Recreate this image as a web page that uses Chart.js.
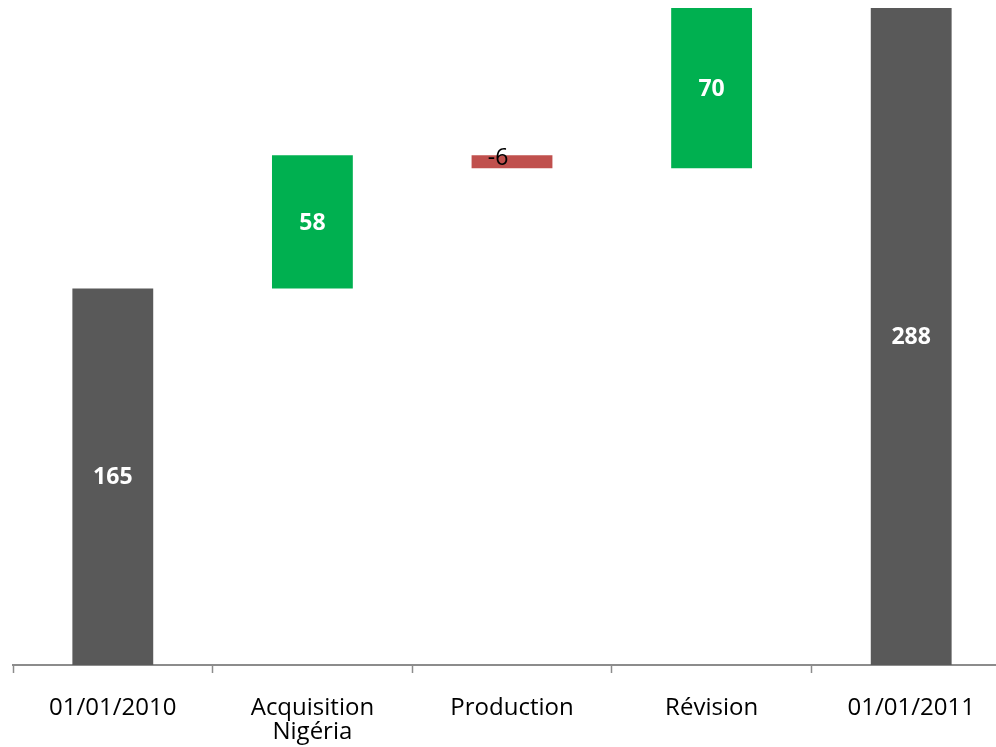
<!DOCTYPE html>
<html>
<head>
<meta charset="utf-8">
<script src="https://cdn.jsdelivr.net/npm/chart.js@4.4.0/dist/chart.umd.min.js"></script>
<style>
  html, body { margin: 0; padding: 0; background: #fff; overflow: hidden; }
  #wrap { width: 1024px; height: 747px; }
</style>
</head>
<body>
<div id="wrap"><canvas id="waterfall" width="1024" height="747"></canvas></div>
<script>
const categories = ['01/01/2010', ['Acquisition', 'Nigéria'], 'Production', 'Révision', '01/01/2011'];
// step values (labels show them rounded)
const values = [165, 58.4, -5.6, 70.2, 288];
const isTotal = [true, false, false, false, true];

const GREY = '#595959';
const GREEN = '#00B050';
const RED = '#C0504D';

// build floating ranges from the step values
let running = 0;
const ranges = values.map((v, i) => {
  if (isTotal[i]) {
    running = v;
    return [0, v];
  }
  const start = running;
  running += v;
  return [Math.min(start, running), Math.max(start, running)];
});
const colors = values.map((v, i) => isTotal[i] ? GREY : (v < 0 ? RED : GREEN));

const labelPlugin = {
  id: 'barLabels',
  afterDatasetsDraw(chart) {
    const ctx = chart.ctx;
    const meta = chart.getDatasetMeta(0);
    ctx.save();
    ctx.textAlign = 'center';
    ctx.textBaseline = 'middle';
    meta.data.forEach((bar, i) => {
      const v = Math.round(values[i]);
      const cy = (bar.y + bar.base) / 2;
      if (v < 0) {
        ctx.font = '23px "Open Sans"';
        ctx.fillStyle = '#000';
        ctx.fillText(String(v), bar.x - 14, cy - 3);
      } else {
        ctx.font = 'bold 23px "Open Sans"';
        ctx.fillStyle = '#fff';
        ctx.fillText(String(v), bar.x, cy + 1);
      }
    });
    ctx.restore();
  }
};

new Chart(document.getElementById('waterfall'), {
  type: 'bar',
  data: {
    labels: categories,
    datasets: [{
      data: ranges,
      backgroundColor: colors,
      borderWidth: 0,
      barPercentage: 0.405,
      categoryPercentage: 1
    }]
  },
  options: {
    responsive: false,
    animation: false,
    layout: { padding: { left: 13, right: 13, top: 8, bottom: 0 } },
    plugins: { legend: { display: false }, tooltip: { enabled: false } },
    scales: {
      x: {
        afterFit(scale) { scale.height = 82; },
        grid: {
          display: true,
          drawOnChartArea: false,
          drawTicks: true,
          tickLength: 8,
          tickWidth: 1.5,
          tickColor: '#8c8c8c',
          offset: true
        },
        border: { display: true, color: '#8c8c8c', width: 2 },
        ticks: {
          color: '#000',
          padding: 24,
          maxRotation: 0,
          autoSkip: false,
          font: { family: 'Open Sans', size: 24, lineHeight: 0.97 }
        }
      },
      y: {
        display: false,
        min: 0,
        max: 288
      }
    }
  },
  plugins: [labelPlugin]
});
</script>
</body>
</html>
